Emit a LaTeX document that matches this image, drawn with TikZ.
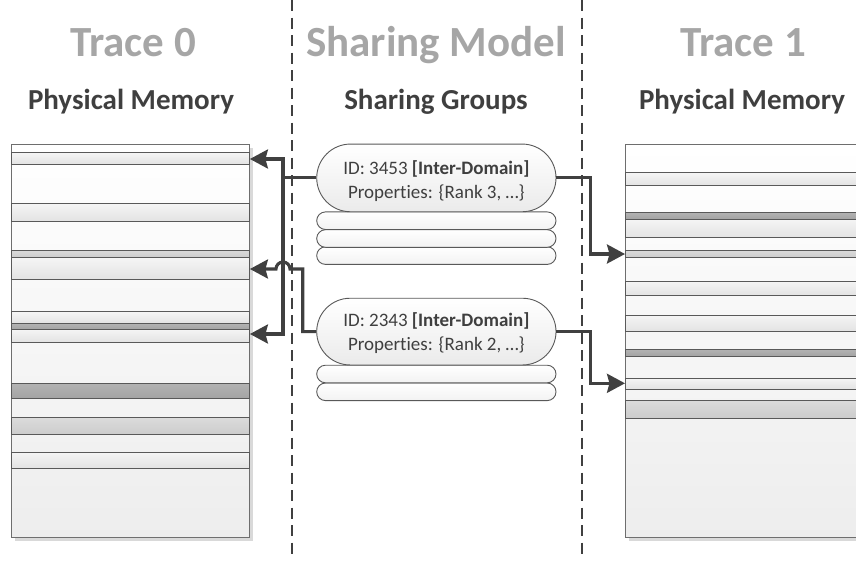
\documentclass[tikz,border=0pt]{standalone}
\usepackage{fontspec}
\setmainfont[Ligatures=NoCommon]{Carlito}
\usetikzlibrary{arrows.meta,shapes.misc,shadows}

\definecolor{titlegray}{HTML}{A6A6A6}
\definecolor{subgray}{HTML}{3F3F3F}
\definecolor{linegray}{HTML}{404040}
\definecolor{edgegray}{HTML}{6E6E6E}
\definecolor{shadowgray}{HTML}{D9D9D9}

\tikzset{
  titletext/.style={anchor=base, text=titlegray, font=\fontsize{43}{43}\selectfont\bfseries},
  subtext/.style={anchor=base, text=subgray, font=\fontsize{29}{30}\selectfont\bfseries},
  membox/.style={draw=edgegray, line width=0.9pt, top color=white, bottom color=black!7,
    anchor=north west, inner sep=0pt,
    drop shadow={shadow xshift=3.5pt, shadow yshift=-3.5pt, fill=shadowgray, opacity=1}},
  bandlite/.style={draw=black!65, line width=0.8pt, top color=black!4, bottom color=black!11},
  bandmid/.style={draw=black!65, line width=0.8pt, top color=black!14, bottom color=black!20},
  banddark/.style={draw=black!65, line width=0.8pt, top color=black!30, bottom color=black!36},
  pill/.style={rounded rectangle, draw=black!65, line width=0.9pt, top color=white,
    bottom color=black!8, inner sep=0pt, minimum width=239.3pt},
  pilltext/.style={text=subgray, align=center, inner sep=0pt,
    font=\fontsize{19}{24}\selectfont},
  thinpill/.style={rounded rectangle, draw=black!65, line width=0.9pt, top color=white,
    bottom color=black!5, inner sep=0pt, minimum width=239.3pt, minimum height=17.6pt},
  divider/.style={draw=linegray, line width=1.4pt, dash pattern=on 11pt off 6.5pt},
  conn/.style={draw=linegray, line width=3.1pt},
  arr/.style={-{Stealth[length=18pt, width=19pt, inset=2.5pt]}},
}

\begin{document}
\begin{tikzpicture}[x=1pt, y=-1pt]
  \useasboundingbox (0,0) rectangle (856,560);
  \clip (0,0) rectangle (856,560);

  % column dividers
  \coordinate (divAt) at (292,0);  \coordinate (divAb) at (292,560);
  \coordinate (divBt) at (582,0);  \coordinate (divBb) at (582,560);
  \draw[divider] (divAt) -- (divAb);
  \draw[divider] (divBt) -- (divBb);

  % headings
  \node[titletext] (h0) at (133,56) {Trace 0};
  \node[titletext] (hm) at (436,56) {Sharing Model};
  \node[titletext] (h1) at (743,56) {Trace 1};
  \node[subtext] (s0) at (131,109.3) {Physical Memory};
  \node[subtext] (sm) at (436,109.3) {Sharing Groups};
  \node[subtext] (s1) at (742,109.3) {Physical Memory};

  % physical memory of trace 0
  \node[membox, minimum width=238pt, minimum height=392.7pt] (mem0) at (11,144) {};
  \foreach \a/\b/\s in {152.7/164/bandlite, 203.3/221/bandlite,
      250/257.7/bandmid, 257.7/279/bandlite,
      311.7/323.3/bandlite, 323.3/329.3/banddark, 329.3/342/bandlite,
      383.3/398.3/banddark, 417.7/434/bandmid, 452/468/bandlite}
    \path[\s] (11,\a) rectangle (249,\b);

  % physical memory of trace 1
  \node[membox, minimum width=260pt, minimum height=392.7pt] (mem1) at (625,144) {};
  \foreach \a/\b/\s in {172.7/185.3/bandlite,
      212.3/219.3/banddark, 219.3/237.7/bandlite,
      250/257.7/bandmid, 281/295.3/bandlite, 315/331.3/bandlite,
      349.3/356.3/banddark, 378/389/bandlite, 400/418/bandmid}
    \path[\s] (625,\a) rectangle (885,\b);

  % sharing groups
  \node[thinpill] (g1c) at (436.35,255.6) {};
  \node[thinpill] (g1b) at (436.35,238.5) {};
  \node[thinpill] (g1a) at (436.35,220.7) {};
  \node[pill, minimum height=67.7pt] (g1) at (436.35,177.9) {};
  \node[pilltext] (g1t) at (436.35,181.5)
    {ID: 3453 \textbf{[Inter-Domain]}\\Properties: \{Rank 3, …\}};

  \node[thinpill] (g2b) at (436.35,391.8) {};
  \node[thinpill] (g2a) at (436.35,374) {};
  \node[pill, minimum height=66.7pt] (g2) at (436.35,331.6) {};
  \node[pilltext] (g2t) at (436.35,333.5)
    {ID: 2343 \textbf{[Inter-Domain]}\\Properties: \{Rank 2, …\}};

  % connectors into trace 0
  \coordinate (busT) at (283,159);
  \coordinate (busB) at (283,334);
  \coordinate (k2) at (302.7,269);
  \draw[conn, arr] (g1.west) -| (busT) -- (mem0.east |- busT);
  \draw[conn, arr] (g1.west) -| (busB) -- (mem0.east |- busB);
  \draw[conn, arr] (g2.west) -| (k2) -- (290,269)
    .. controls (290,265.1) and (286.9,262) .. (283,262)
    .. controls (279.1,262) and (276,265.1) .. (276,269)
    -- (mem0.east |- k2);

  % connectors into trace 1
  \coordinate (r1) at (590.7,254);
  \coordinate (r2) at (590.7,383.3);
  \draw[conn, arr] (g1.east) -| (r1) -- (mem1.west |- r1);
  \draw[conn, arr] (g2.east) -| (r2) -- (mem1.west |- r2);
\end{tikzpicture}
\end{document}
